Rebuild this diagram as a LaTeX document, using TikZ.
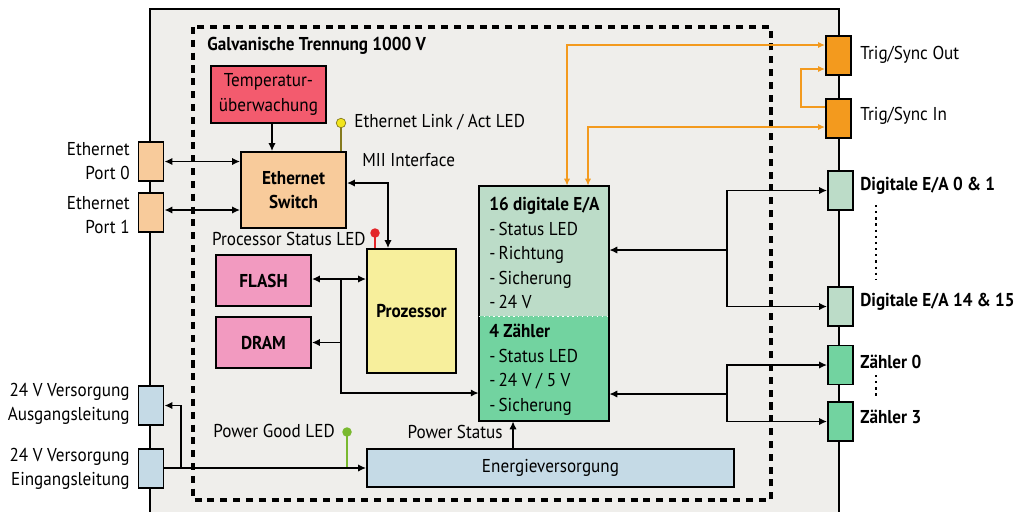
\documentclass[tikz,border=0pt]{standalone}
\usepackage{fontspec}
\setmainfont{PT Sans}[FakeStretch=0.92,Scale=1.06]
\linespread{1.16}
\usetikzlibrary{arrows.meta}

\definecolor{casebg}{HTML}{EFEEEB}
\definecolor{tempred}{HTML}{F35B6E}
\definecolor{ethpeach}{HTML}{F8CB9B}
\definecolor{mempink}{HTML}{F29AC0}
\definecolor{cpuyellow}{HTML}{F7EF9C}
\definecolor{diogreen}{HTML}{BCDCC8}
\definecolor{cntgreen}{HTML}{72D3A0}
\definecolor{supblue}{HTML}{C5DAE6}
\definecolor{syncor}{HTML}{F39A1E}
\definecolor{ledyellow}{HTML}{F2E51C}
\definecolor{ledolive}{HTML}{857A1E}
\definecolor{ledred}{HTML}{E3262A}
\definecolor{ledgreen}{HTML}{79B92F}

\begin{document}
\begin{tikzpicture}[x=0.02cm,y=-0.02cm,>={Latex[length=4.5pt,width=4.2pt]},
  blk/.style={draw,line width=1.1pt,inner sep=0pt,align=center},
  port/.style={draw,line width=1.1pt,inner sep=0pt,minimum width=0.5cm,minimum height=0.78cm},
  conn/.style={line width=1.1pt},
  sync/.style={draw=syncor,line width=0.9pt,>={Latex[length=4pt,width=3.6pt]}},
  led/.style={circle,inner sep=0pt,minimum size=0.19cm},
  txt/.style={inner sep=0pt},
  bold/.style={inner sep=0pt,font=\bfseries}]
\useasboundingbox (0,0) rectangle (1017,511);

% housing and isolation barrier
\draw[fill=casebg,line width=1.1pt] (150,530) -- (150,9) -- (839,9) -- (839,530);
\draw[line width=2pt,dash pattern=on 4pt off 3.3pt] (193,27) rectangle (771,500);
\node[bold,anchor=west] (iso) at (207,46) {Galvanische Trennung 1000 V};

% blocks
\node[blk,fill=tempred,minimum width=2.3cm,minimum height=1.14cm] (temp) at (268.5,94.5) {Temperatur-\\überwachung};
\node[blk,fill=ethpeach,minimum width=2.1cm,minimum height=1.52cm,font=\bfseries] (sw) at (293.5,190) {Ethernet\\Switch};
\node[blk,fill=cpuyellow,minimum width=1.78cm,minimum height=2.48cm,font=\bfseries] (cpu) at (411.5,311) {Prozessor};
\node[blk,fill=mempink,minimum width=1.9cm,minimum height=1.02cm,font=\bfseries] (flash) at (263.5,280.5) {FLASH};
\node[blk,fill=mempink,minimum width=1.9cm,minimum height=1.02cm,font=\bfseries] (dram) at (263.5,342.5) {DRAM};
\node[blk,fill=supblue,minimum width=7.34cm,minimum height=0.76cm] (pwr) at (550.5,468) {Energieversorgung};

\node[fill=diogreen,minimum width=2.6cm,minimum height=2.6cm,inner sep=0pt] (dio) at (544,251) {};
\node[fill=cntgreen,minimum width=2.6cm,minimum height=2.1cm,inner sep=0pt] (cnt) at (544,368.5) {};
\draw[line width=1.1pt] (dio.north west) rectangle (cnt.south east);
\draw[white,line width=0.8pt,dotted] (dio.south west) -- (dio.south east);
\node[txt,anchor=north west,align=left] (diotxt) at (489,197) {\textbf{16 digitale E/A}\\-\,Status LED\\-\,Richtung\\-\,Sicherung\\-\,24 V};
\node[txt,anchor=north west,align=left] (cnttxt) at (489,324) {\textbf{4 Zähler}\\-\,Status LED\\-\,24 V / 5 V\\-\,Sicherung};

% connectors left
\node[port,fill=ethpeach] (p0) at (151,161.5) {};
\node[port,fill=ethpeach] (p1) at (151,212.5) {};
\node[port,fill=supblue] (vout) at (151,405.5) {};
\node[port,fill=supblue] (vin) at (151,468.5) {};
\node[txt,anchor=east,align=right] (p0l) at (130,161) {Ethernet\\Port 0};
\node[txt,anchor=east,align=right] (p1l) at (130,215) {Ethernet\\Port 1};
\node[txt,anchor=east,align=right] (voutl) at (130,404) {24 V Versorgung\\Ausgangsleitung};
\node[txt,anchor=east,align=right] (vinl) at (130,469) {24 V Versorgung\\Eingangsleitung};

% connectors right
\node[port,fill=syncor] (tout) at (838.5,55.5) {};
\node[port,fill=syncor] (tin) at (838.5,118.5) {};
\node[port,fill=diogreen] (d0) at (840.5,190.5) {};
\node[port,fill=diogreen] (d14) at (840.5,306.5) {};
\node[port,fill=cntgreen] (c0) at (840.5,365) {};
\node[port,fill=cntgreen] (c3) at (840.5,421.5) {};
\node[txt,anchor=west] (toutl) at (860,55) {Trig/Sync Out};
\node[txt,anchor=west] (tinl) at (860,116) {Trig/Sync In};
\node[bold,anchor=west] (d0l) at (860,186) {Digitale E/A 0 \& 1};
\node[bold,anchor=west] (d14l) at (860,302) {Digitale E/A 14 \& 15};
\node[bold,anchor=west] (c0l) at (860,362) {Zähler 0};
\node[bold,anchor=west] (c3l) at (860,417) {Zähler 3};
\draw[line width=1.3pt,dash pattern=on 1.3pt off 2.2pt] (876,205) -- (876,280);
\draw[line width=1.3pt,dash pattern=on 1.3pt off 2.2pt] (876,375) -- (876,396);

% LEDs
\coordinate (ledA) at (341,123);
\coordinate (ledB) at (375,233);
\coordinate (ledC) at (347,432);
\draw[ledolive,line width=1.1pt] (ledA |- sw.north) -- (ledA);
\draw[ledred,line width=1.1pt] (ledB |- cpu.north) -- (ledB);
\draw[ledgreen,line width=1.1pt] (ledC |- vin) -- (ledC);
\node[led,fill=ledyellow,draw=ledolive,line width=0.4pt] (linkled) at (ledA) {};
\node[led,fill=ledred] (cpuled) at (ledB) {};
\node[led,fill=ledgreen] (pgled) at (ledC) {};
\node[txt,anchor=west] (linkl) at (354,122) {Ethernet Link / Act LED};
\node[txt,anchor=east] (cpul) at (366,239) {Processor Status LED};
\node[txt,anchor=west] (pgl) at (213,431) {Power Good LED};
\node[txt,anchor=west] (miil) at (362,160) {MII Interface};
\node[txt,anchor=east] (psl) at (503,432) {Power Status};

% ethernet and processor bus
\draw[conn,<->] (p0.east) -- (p0.east -| sw.west);
\draw[conn,<->] (p1.east |- 0,210) -- (sw.west |- 0,210);
\draw[conn,->] (temp.south -| 272,0) -- (sw.north -| 272,0);
\coordinate (mii) at (388,183);
\draw[conn,<->] (sw.east |- mii) -- (mii) -- (mii |- cpu.north);
\coordinate (bus) at (341,279);
\coordinate (busend) at (341,393);
\draw[conn,<->] (flash.east |- bus) -- (bus -| cpu.west);
\draw[conn,->] (bus) -- (bus |- dram) -- (dram.east);
\draw[conn,->] (bus) -- (busend) -- (busend -| cnt.west);

% field side
\coordinate (hubd) at (727,250);
\coordinate (hubc) at (727,394);
\draw[conn,->] (hubd) -- (hubd -| dio.east);
\draw[conn,<->] (d0.west) -- (d0.west -| hubd) -- (d14.west -| hubd) -- (d14.west);
\draw[conn,->] (hubc) -- (hubc -| cnt.east);
\draw[conn,<->] (c0.west) -- (c0.west -| hubc) -- (c3.west -| hubc) -- (c3.west);

% trigger lines
\draw[sync,<->] (dio.north -| 567,0) -- (567,45) -- (tout.west |- 0,45);
\draw[sync,<->] (dio.north -| 588,0) -- (588,127) -- (tin.west |- 0,127);
\draw[sync,->] (tin.west |- 0,107) -- (801,107) -- (801,69) -- (tout.west |- 0,69);

% supply
\coordinate (split) at (181,468);
\draw[conn,->] (vin.east |- split) -- (split -| pwr.west);
\draw[conn,->] (split) |- (vout.east);
\draw[conn,->] (pwr.north -| 513,0) -- (cnt.south -| 513,0);
\end{tikzpicture}
\end{document}
